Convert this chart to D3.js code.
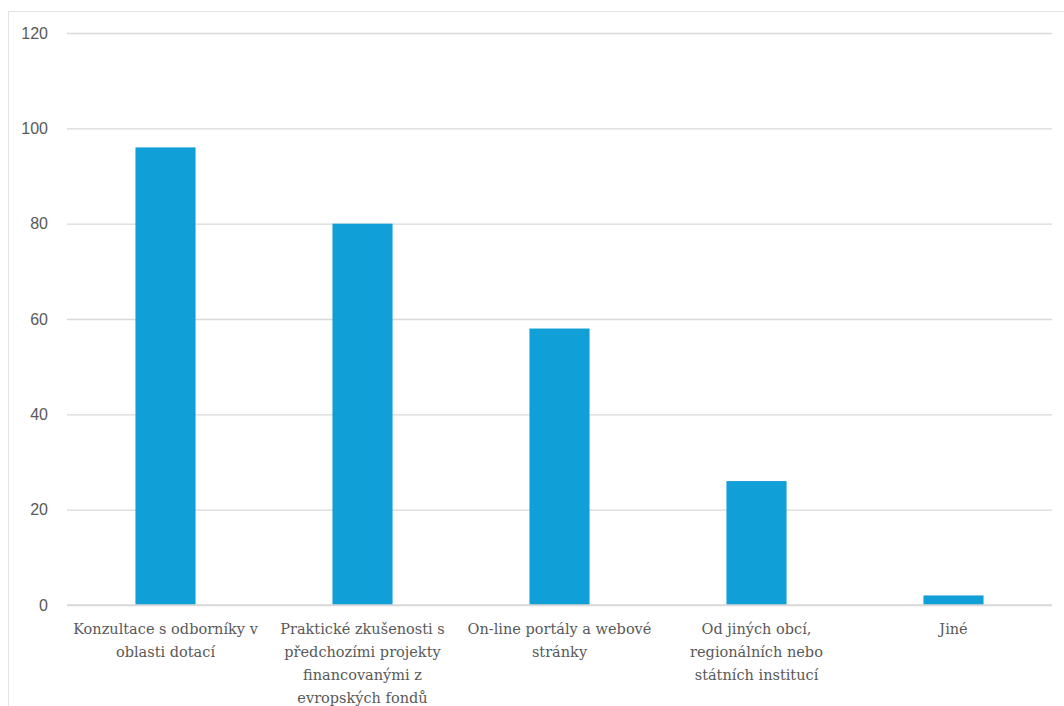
<!DOCTYPE html>
<html><head><meta charset="utf-8">
<script src="https://cdn.jsdelivr.net/npm/d3@7"></script>
<style>body{margin:0;background:#fff}svg{display:block}
</style>
</head><body>
<svg id="c" width="1064" height="706"></svg>
<script>
const categories = ["Konzultace s odborníky v oblasti dotací","Praktické zkušenosti s předchozími projekty financovanými z evropských fondů","On-line portály a webové stránky","Od jiných obcí, regionálních nebo státních institucí","Jiné"];
const labelLines = [
  ["Konzultace s odborníky v","oblasti dotací"],
  ["Praktické zkušenosti s","předchozími projekty","financovanými z","evropských fondů"],
  ["On-line portály a webové","stránky"],
  ["Od jiných obcí,","regionálních nebo","státních institucí"],
  ["Jiné"]
];
const values = [96, 80, 58, 26, 2];
const yTicks = [0, 20, 40, 60, 80, 100, 120];

const svg = d3.select("#c");
const m = {l:67, r:1052, t:33, b:605};
svg.append("rect").attr("x",8.5).attr("y",11.5).attr("width",1070).attr("height",710)
  .attr("fill","#fff").attr("stroke","#e3e3e3");

const x = d3.scaleBand().domain(categories).range([m.l, m.r]).paddingInner(0.695).paddingOuter(0.3475);
const y = d3.scaleLinear().domain([0,120]).range([m.b, m.t]);

const yAxis = svg.append("g").attr("transform",`translate(${m.l},0)`)
  .call(d3.axisLeft(y).tickValues(yTicks).tickSize(-(m.r-m.l)).tickPadding(19));
yAxis.attr("font-family","Liberation Sans").attr("font-size",16);
yAxis.select(".domain").remove();
yAxis.selectAll(".tick line").attr("stroke","#d9d9d9").attr("stroke-width",1.3);
yAxis.selectAll(".tick text").attr("fill","#595959");

svg.append("g").selectAll("rect").data(values).join("rect")
  .attr("x",(d,i)=>x(categories[i])).attr("width",x.bandwidth())
  .attr("y",d=>y(d)).attr("height",d=>y(0)-y(d))
  .attr("fill","#109fd7");

svg.append("line").attr("x1",m.l).attr("x2",m.r).attr("y1",y(0)).attr("y2",y(0)).attr("stroke","#d9d9d9").attr("stroke-width",1.3);

const xl = svg.append("g").attr("font-family","DejaVu Serif").attr("font-size",14.5).attr("fill","#595959");
categories.forEach((c,i)=>{
  const cx = x(c)+x.bandwidth()/2;
  const t = xl.append("text").attr("x",cx).attr("y",634).attr("text-anchor","middle");
  labelLines[i].forEach((ln,j)=>{
    t.append("tspan").attr("x",cx).attr("dy", j===0?0:23).text(ln);
  });
});
</script>
</body></html>
